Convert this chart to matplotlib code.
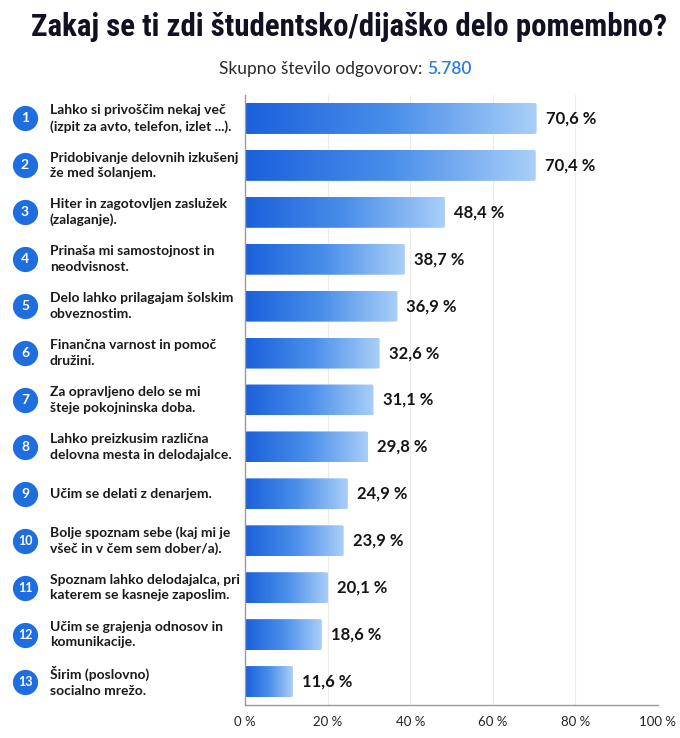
import matplotlib
matplotlib.use("Agg")
import matplotlib.pyplot as plt
import numpy as np
from matplotlib.transforms import blended_transform_factory
from matplotlib.colors import LinearSegmentedColormap
from matplotlib.patches import FancyBboxPatch

title = "Zakaj se ti zdi študentsko/dijaško delo pomembno?"
subtitle_text = "Skupno število odgovorov: "
subtitle_total = "5.780"

categories = [
    "Lahko si privoščim nekaj več\n(izpit za avto, telefon, izlet ...).",
    "Pridobivanje delovnih izkušenj\nže med šolanjem.",
    "Hiter in zagotovljen zaslužek\n(zalaganje).",
    "Prinaša mi samostojnost in\nneodvisnost.",
    "Delo lahko prilagajam šolskim\nobveznostim.",
    "Finančna varnost in pomoč\ndružini.",
    "Za opravljeno delo se mi\nšteje pokojninska doba.",
    "Lahko preizkusim različna\ndelovna mesta in delodajalce.",
    "Učim se delati z denarjem.",
    "Bolje spoznam sebe (kaj mi je\nvšeč in v čem sem dober/a).",
    "Spoznam lahko delodajalca, pri\nkaterem se kasneje zaposlim.",
    "Učim se grajenja odnosov in\nkomunikacije.",
    "Širim (poslovno)\nsocialno mrežo.",
]
values = [70.6, 70.4, 48.4, 38.7, 36.9, 32.6, 31.1, 29.8, 24.9, 23.9, 20.1, 18.6, 11.6]
xticks = [0, 20, 40, 60, 80, 100]
xtick_labels = ["0 %", "20 %", "40 %", "60 %", "80 %", "100 %"]

FONT = ["Lato", "DejaVu Sans"]
TITLE_FONT = ["Roboto Condensed", "IBM Plex Sans Condensed", "PT Sans Narrow",
              "Open Sans Condensed", "DejaVu Sans"]
plt.rcParams["font.family"] = FONT

W, H = 680, 738
fig = plt.figure(figsize=(W / 100, H / 100), dpi=100)
fig.patch.set_facecolor("white")

ax = fig.add_axes([245 / W, 1 - 705 / H, 413 / W, 610 / H])
n = len(values)
ypos = np.arange(n)
ax.set_xlim(0, 100)
ax.set_ylim(n - 0.5, -0.5)

cmap = LinearSegmentedColormap.from_list("g", ["#1a60db", "#4a8eea", "#a9cff8"])
grad = np.linspace(0, 1, 256).reshape(1, -1)
bh = 0.66
for y, v in zip(ypos, values):
    patch = FancyBboxPatch((0, y - bh / 2), v, bh,
                           boxstyle="round,pad=0,rounding_size=0.6",
                           mutation_aspect=0.05,
                           facecolor="none", edgecolor="none", zorder=2)
    ax.add_patch(patch)
    im = ax.imshow(grad, cmap=cmap, aspect="auto",
                   extent=(0, v, y + bh / 2, y - bh / 2), zorder=2,
                   interpolation="bicubic")
    im.set_clip_path(patch)
    ax.text(v + 2.2, y, f"{v:.1f}".replace(".", ",") + " %",
            va="center", ha="left", fontsize=12, fontweight="bold",
            color="#151515", zorder=3)

ax.set_xticks(xticks)
ax.set_xticklabels(xtick_labels, fontsize=9.5, color="#222222")
ax.set_yticks([])
ax.tick_params(axis="x", length=0, pad=8)
ax.grid(axis="x", color="#ececec", linewidth=0.8, zorder=0)
ax.set_axisbelow(True)
for s in ["top", "right"]:
    ax.spines[s].set_visible(False)
ax.spines["left"].set_color("#9a9a9a")
ax.spines["left"].set_linewidth(1.0)
ax.spines["bottom"].set_color("#9a9a9a")
ax.spines["bottom"].set_linewidth(1.0)

tr = blended_transform_factory(fig.transFigure, ax.transData)
for i, (y, c) in enumerate(zip(ypos, categories)):
    ax.scatter([25 / W], [y], s=330, color="#1f6ee0", transform=tr,
               clip_on=False, zorder=5, linewidths=0)
    ax.text(25 / W, y, str(i + 1), transform=tr, ha="center", va="center",
            color="white", fontsize=10 if i < 9 else 9, fontweight="bold",
            zorder=6, clip_on=False)
    ax.text(50 / W, y, c, transform=tr, ha="left", va="center",
            fontsize=10, fontweight="bold", color="#1a1a1a",
            linespacing=1.35, clip_on=False)

tt = fig.text(0.5 + 9 / W, 1 - 27 / H, title, ha="center", va="center",
              fontsize=24, fontweight="bold", color="#111122",
              family=TITLE_FONT)

ysub = 1 - 69 / H
t1 = fig.text(0.5, ysub, subtitle_text, ha="left", va="center",
              fontsize=12.5, color="#2a2a2a")
t2 = fig.text(0.5, ysub, subtitle_total, ha="left", va="center",
              fontsize=12.5, color="#2b7ce0", fontweight="semibold")
fig.canvas.draw()
r = fig.canvas.get_renderer()
tw = tt.get_window_extent(r).width
tt.set_fontsize(24 * 638 / tw)
w1 = t1.get_window_extent(r).width / W
w2 = t2.get_window_extent(r).width / W
x0 = 0.508 - (w1 + w2) / 2
t1.set_position((x0, ysub))
t2.set_position((x0 + w1, ysub))

fig.savefig("out.png", dpi=100, facecolor="white")
